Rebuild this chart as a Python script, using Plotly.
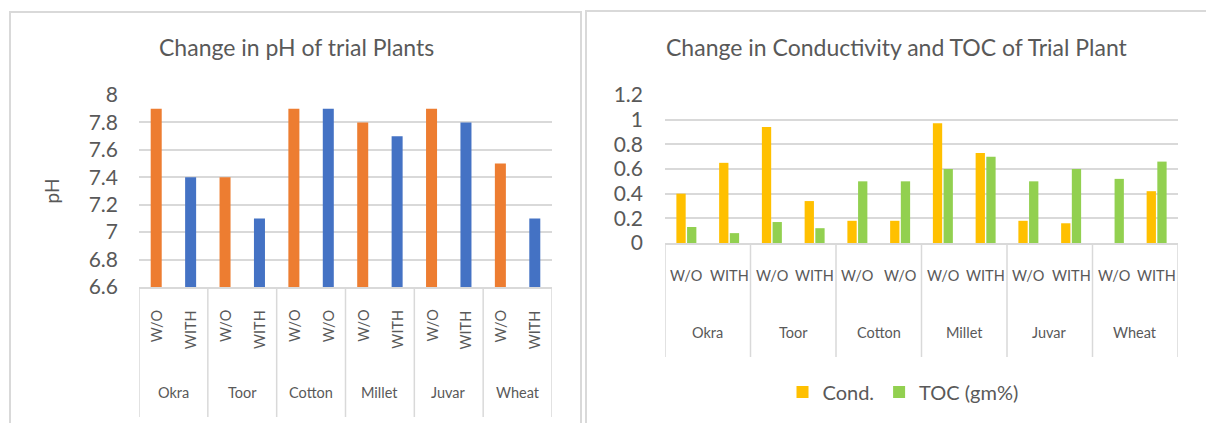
import plotly.graph_objects as go

W, H = 1206, 423

# ---- data ----
crops = ["Okra", "Toor", "Cotton", "Millet", "Juvar", "Wheat"]
treat_labels = ["W/O", "WITH", "W/O", "WITH", "W/O", "W/O",
                "W/O", "WITH", "W/O", "WITH", "W/O", "WITH"]
ph_values = [7.9, 7.4, 7.4, 7.1, 7.9, 7.9, 7.8, 7.7, 7.9, 7.8, 7.5, 7.1]
cond_values = [0.40, 0.65, 0.94, 0.34, 0.18, 0.18, 0.97, 0.73, 0.18, 0.16, None, 0.42]
toc_values = [0.13, 0.08, 0.17, 0.12, 0.50, 0.50, 0.60, 0.70, 0.50, 0.60, 0.52, 0.66]

per_group = len(treat_labels) // len(crops)

# build multicategory keys (make duplicate inner labels within a group unique)
outer, inner = [], []
for i, lab in enumerate(treat_labels):
    grp = crops[i // per_group]
    key = lab
    while (grp, key) in zip(outer, inner):
        key = key + "\u200b"
    outer.append(grp)
    inner.append(key)
xcat = [outer, inner]

ORANGE = "#ED7D31"
BLUE = "#4472C4"
YELLOW = "#FFC000"
GREEN = "#92D050"
TXT = "#595959"
GRID = "#D9D9D9"
FONT = "Lato, 'Open Sans', sans-serif"

ph_colors = [ORANGE if i % 2 == 0 else BLUE for i in range(len(ph_values))]


def py(p):
    return 1 - p / H


def px(p):
    return p / W


fig = go.Figure()
fig.add_trace(go.Bar(x=xcat, y=ph_values, marker=dict(color=ph_colors, line=dict(width=0)),
                     width=0.32, showlegend=False, xaxis="x", yaxis="y"))
fig.add_trace(go.Bar(x=xcat, y=cond_values, name="Cond.", marker=dict(color=YELLOW, line=dict(width=0)),
                     xaxis="x2", yaxis="y2"))
fig.add_trace(go.Bar(x=xcat, y=toc_values, name="TOC (gm%)", marker=dict(color=GREEN, line=dict(width=0)),
                     xaxis="x2", yaxis="y2"))

annotations = [
    dict(text="Change in pH of trial Plants", x=px(296), y=py(47), xref="paper", yref="paper",
         showarrow=False, font=dict(size=23, color=TXT), xanchor="center", yanchor="middle"),
    dict(text="Change in Conductivity and TOC of Trial Plant", x=px(897), y=py(47), xref="paper",
         yref="paper", showarrow=False, font=dict(size=23, color=TXT), xanchor="center",
         yanchor="middle"),
]
shapes = [
    dict(type="rect", xref="paper", yref="paper", x0=px(10), x1=px(581), y0=py(450), y1=py(12),
         line=dict(color=GRID, width=2), layer="below"),
    dict(type="rect", xref="paper", yref="paper", x0=px(586), x1=px(1230), y0=py(450), y1=py(11),
         line=dict(color=GRID, width=2), layer="below"),
]

# category axis labels & group dividers (left: rotated inner labels, right: horizontal)
axes_cfg = [
    # xref, inner label y, inner angle, outer y, divider bottom y, axis y
    ("x", 308, -90, 392, 417, 287),
    ("x2", 275, 0, 332, 357, 243),
]
for xref, yin, ang, yout, ybot, yax in axes_cfg:
    for i, lab in enumerate(treat_labels):
        annotations.append(dict(
            text=lab, x=i, xref=xref, y=py(yin), yref="paper", showarrow=False,
            textangle=ang, xanchor="center", yanchor="top" if ang else "middle",
            font=dict(size=14.5, color=TXT)))
    for g, crop in enumerate(crops):
        annotations.append(dict(
            text=crop, x=g * per_group + (per_group - 1) / 2, xref=xref, y=py(yout), yref="paper",
            showarrow=False, xanchor="center", yanchor="middle", font=dict(size=14.5, color=TXT)))
    for g in range(len(crops) + 1):
        xb = g * per_group - 0.5
        shapes.append(dict(type="line", xref=xref, yref="paper", x0=xb, x1=xb,
                           y0=py(ybot), y1=py(yax),
                           line=dict(color=GRID, width=1.5)))

fig.update_layout(
    width=W, height=H,
    margin=dict(l=0, r=0, t=0, b=0, autoexpand=False),
    paper_bgcolor="white", plot_bgcolor="white",
    font=dict(family=FONT, color=TXT),
    barmode="group", bargap=0.5, bargroupgap=0.13,
    xaxis=dict(type="multicategory", domain=[px(139), px(552)], anchor="y",
               showline=True, linecolor=GRID, linewidth=1.5, ticks="",
               showticklabels=False, showdividers=False, showgrid=False,
               range=[-0.5, len(treat_labels) - 0.5]),
    yaxis=dict(domain=[py(287), py(95)], range=[6.6, 8], dtick=0.2, anchor="x",
               showgrid=True, gridcolor=GRID, gridwidth=1.5, zeroline=False,
               showline=False, tickfont=dict(size=21, color=TXT), ticklabelstandoff=20,
               tickformat="~g",
               title=dict(text="pH", font=dict(size=19, color=TXT), standoff=24)),
    xaxis2=dict(type="multicategory", domain=[px(665), px(1178)], anchor="y2",
                showline=True, linecolor=GRID, linewidth=1.5, ticks="",
                showticklabels=False, showdividers=False, showgrid=False,
                range=[-0.5, len(treat_labels) - 0.5]),
    yaxis2=dict(domain=[py(243), py(95)], range=[0, 1.2], dtick=0.2, anchor="x2",
                showgrid=True, gridcolor=GRID, gridwidth=1.5, zeroline=False,
                showline=False, tickfont=dict(size=21, color=TXT), ticklabelstandoff=21,
                tickformat="~g"),
    legend=dict(orientation="h", x=px(903), y=py(392), xanchor="center", yanchor="middle",
                font=dict(size=20, color=TXT), bgcolor="rgba(0,0,0,0)", itemwidth=30),
    annotations=annotations,
    shapes=shapes,
)

fig.write_html("out.html", config={"displayModeBar": False},
               post_script="document.body.style.margin='0px';")
